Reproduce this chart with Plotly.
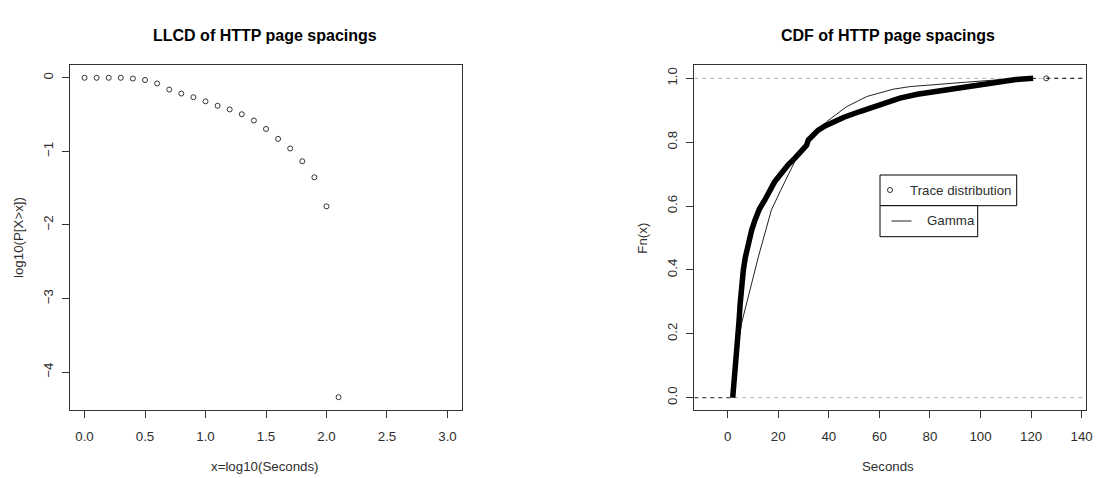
import plotly.graph_objects as go

# ---------------- data ----------------
llcd_x = [0.0, 0.1, 0.2, 0.3, 0.4, 0.5, 0.6, 0.7, 0.8, 0.9, 1.0,
          1.1, 1.2, 1.3, 1.4, 1.5, 1.6, 1.7, 1.8, 1.9, 2.0, 2.1]
llcd_y = [0.0, 0.0, 0.0, 0.0, -0.01, -0.03, -0.077, -0.16, -0.214, -0.264, -0.32,
          -0.38, -0.43, -0.495, -0.58, -0.695, -0.83, -0.96, -1.134, -1.352, -1.747, -4.34]

trace_sec = [2.0, 2.5, 3.2, 4.0, 4.5, 4.9, 5.5, 6.2, 7.0, 8.1, 9.5, 10.8, 12.5, 14.7,
             16.7, 18.5, 20.0, 22.0, 24.0, 26.6, 28.5, 30.5, 31.2, 31.9, 33.5, 35.8,
             38.5, 41.8, 46.0, 52.3, 57.5, 62.9, 68.1, 75.0, 81.3, 88.0, 94.5, 101.0,
             107.7, 114.0, 120.8]
trace_cdf = [0.0, 0.04, 0.10, 0.17, 0.24, 0.29, 0.35, 0.40, 0.44, 0.484, 0.525, 0.556,
             0.59, 0.619, 0.65, 0.675, 0.69, 0.713, 0.73, 0.75, 0.765, 0.782, 0.79,
             0.807, 0.822, 0.838, 0.851, 0.864, 0.878, 0.896, 0.91, 0.922, 0.938, 0.95,
             0.958, 0.966, 0.974, 0.982, 0.99, 0.996, 1.0]
trace_last_sec = [126.0]
trace_last_cdf = [1.0]

gamma_sec = [2.5, 5.5, 12.1, 17.3, 21.0, 25.3, 27.5, 32.6, 39.1, 47.0, 55.0,
             65.5, 72.0, 94.5, 111.6, 122.0]
gamma_cdf = [0.09, 0.233, 0.44, 0.588, 0.65, 0.72, 0.755, 0.81, 0.864, 0.911, 0.943,
             0.966, 0.974, 0.988, 0.998, 1.0]

llcd_xticks = [0.0, 0.5, 1.0, 1.5, 2.0, 2.5, 3.0]
llcd_yticks = [0, -1, -2, -3, -4]
cdf_xticks = [0, 20, 40, 60, 80, 100, 120, 140]
cdf_yticks = [0.0, 0.2, 0.4, 0.6, 0.8, 1.0]

# ---------------- layout helpers ----------------
W, H = 1097, 478
def fx(x):
    return x / W
def fy(y):
    return 1 - y / H

FONT = "Liberation Sans, Arial, sans-serif"
TXT = "#2e2e2e"
AX = "#333333"

L_XR = [-0.12, 3.12]
L_YR = [-4.514, 0.174]
R_XR = [-13.2, 141.6]
R_YR = [-0.0385, 1.0417]

fig = go.Figure()

# LLCD points
fig.add_trace(go.Scatter(
    x=llcd_x, y=llcd_y, mode="markers", xaxis="x", yaxis="y",
    marker=dict(symbol="circle-open", size=5, color="#333333", line=dict(width=1, color="#333333")),
    showlegend=False, hoverinfo="skip"))

# ECDF tails
fig.add_trace(go.Scatter(
    x=[R_XR[0], trace_sec[0]], y=[trace_cdf[0], trace_cdf[0]], mode="lines",
    xaxis="x2", yaxis="y2", line=dict(color="#555555", width=1.3, dash="4px,4px"),
    showlegend=False, hoverinfo="skip"))
fig.add_trace(go.Scatter(
    x=[trace_last_sec[0], R_XR[1]], y=[trace_last_cdf[0], trace_last_cdf[0]], mode="lines",
    xaxis="x2", yaxis="y2", line=dict(color="#333333", width=1.3, dash="4px,4px"),
    showlegend=False, hoverinfo="skip"))

# Gamma fit
fig.add_trace(go.Scatter(
    x=gamma_sec, y=gamma_cdf, mode="lines", xaxis="x2", yaxis="y2",
    line=dict(color="#222222", width=1),
    showlegend=False, hoverinfo="skip"))

# Trace distribution (thick)
fig.add_trace(go.Scatter(
    x=trace_sec, y=trace_cdf, mode="lines", xaxis="x2", yaxis="y2",
    line=dict(color="#000000", width=5.5),
    showlegend=False, hoverinfo="skip"))
fig.add_trace(go.Scatter(
    x=trace_last_sec, y=trace_last_cdf, mode="markers", xaxis="x2", yaxis="y2",
    marker=dict(symbol="circle-open", size=5, color="#333333", line=dict(width=1, color="#333333")),
    showlegend=False, hoverinfo="skip"))

axis_common = dict(
    showline=True, linecolor=AX, linewidth=1, mirror=True,
    ticks="outside", ticklen=7, tickcolor=AX, tickwidth=1,
    showgrid=False, zeroline=False,
    tickfont=dict(family=FONT, size=13.3, color=TXT),
    automargin=False, fixedrange=True,
)

fig.update_layout(
    width=W, height=H,
    margin=dict(l=0, r=0, t=0, b=0),
    paper_bgcolor="white", plot_bgcolor="white",
    showlegend=False,
    xaxis=dict(domain=[fx(70), fx(462)], range=L_XR, tickvals=llcd_xticks,
               tickformat=".1f", anchor="y", ticklabelstandoff=7, **axis_common),
    yaxis=dict(domain=[fy(410), fy(65)], range=L_YR, tickvals=llcd_yticks,
               tickangle=-90, anchor="x", ticklabelstandoff=4, **axis_common),
    xaxis2=dict(domain=[fx(694.3), fx(1085.7)], range=R_XR, tickvals=cdf_xticks,
                anchor="y2", ticklabelstandoff=7, **axis_common),
    yaxis2=dict(domain=[fy(410), fy(65)], range=R_YR, tickvals=cdf_yticks,
                tickformat=".1f", tickangle=-90, anchor="x2", ticklabelstandoff=4, **axis_common),
)

shapes = []
# gray reference lines at 0 and 1
for v in (0.0, 1.0):
    shapes.append(dict(type="line", xref="x2 domain", yref="y2", x0=0, x1=1, y0=v, y1=v,
                       line=dict(color="#b3b3b3", width=1, dash="4px,4px"), layer="below"))
# legend boxes
shapes.append(dict(type="rect", xref="paper", yref="paper",
                   x0=fx(880), x1=fx(1016.7), y0=fy(205.7), y1=fy(175),
                   line=dict(color="#000000", width=1), fillcolor="white"))
shapes.append(dict(type="rect", xref="paper", yref="paper",
                   x0=fx(880), x1=fx(977.7), y0=fy(236.7), y1=fy(205.7),
                   line=dict(color="#000000", width=1), fillcolor="white"))
shapes.append(dict(type="circle", xref="paper", yref="paper",
                   x0=fx(887.5), x1=fx(892.5), y0=fy(192.5), y1=fy(187.5),
                   line=dict(color="#333333", width=1)))
shapes.append(dict(type="line", xref="paper", yref="paper",
                   x0=fx(891.5), x1=fx(911.5), y0=fy(221), y1=fy(221),
                   line=dict(color="#222222", width=1)))
fig.update_layout(shapes=shapes)

ann = []
def text(x, y, s, size=13.3, angle=0, xanchor="center", color=TXT):
    ann.append(dict(x=fx(x), y=fy(y), xref="paper", yref="paper", text=s, showarrow=False,
                    textangle=angle, xanchor=xanchor, yanchor="middle",
                    font=dict(family=FONT, size=size, color=color)))

text(265, 35, "<b>LLCD of HTTP page spacings</b>", size=16, color="#000000")
text(888, 35, "<b>CDF of HTTP page spacings</b>", size=16, color="#000000")
text(265, 466, "x=log10(Seconds)")
text(888, 466, "Seconds")
text(18, 238, "log10(P[X>x])", angle=-90)
text(641.7, 238, "Fn(x)", angle=-90)
text(908.3, 190, "Trace distribution", xanchor="left")
text(925, 221, "Gamma", xanchor="left")
fig.update_layout(annotations=ann)

fig.write_html("out.html",
               config={"displayModeBar": False, "staticPlot": True},
               post_script="document.body.style.margin='0px';document.body.style.overflow='hidden';")
